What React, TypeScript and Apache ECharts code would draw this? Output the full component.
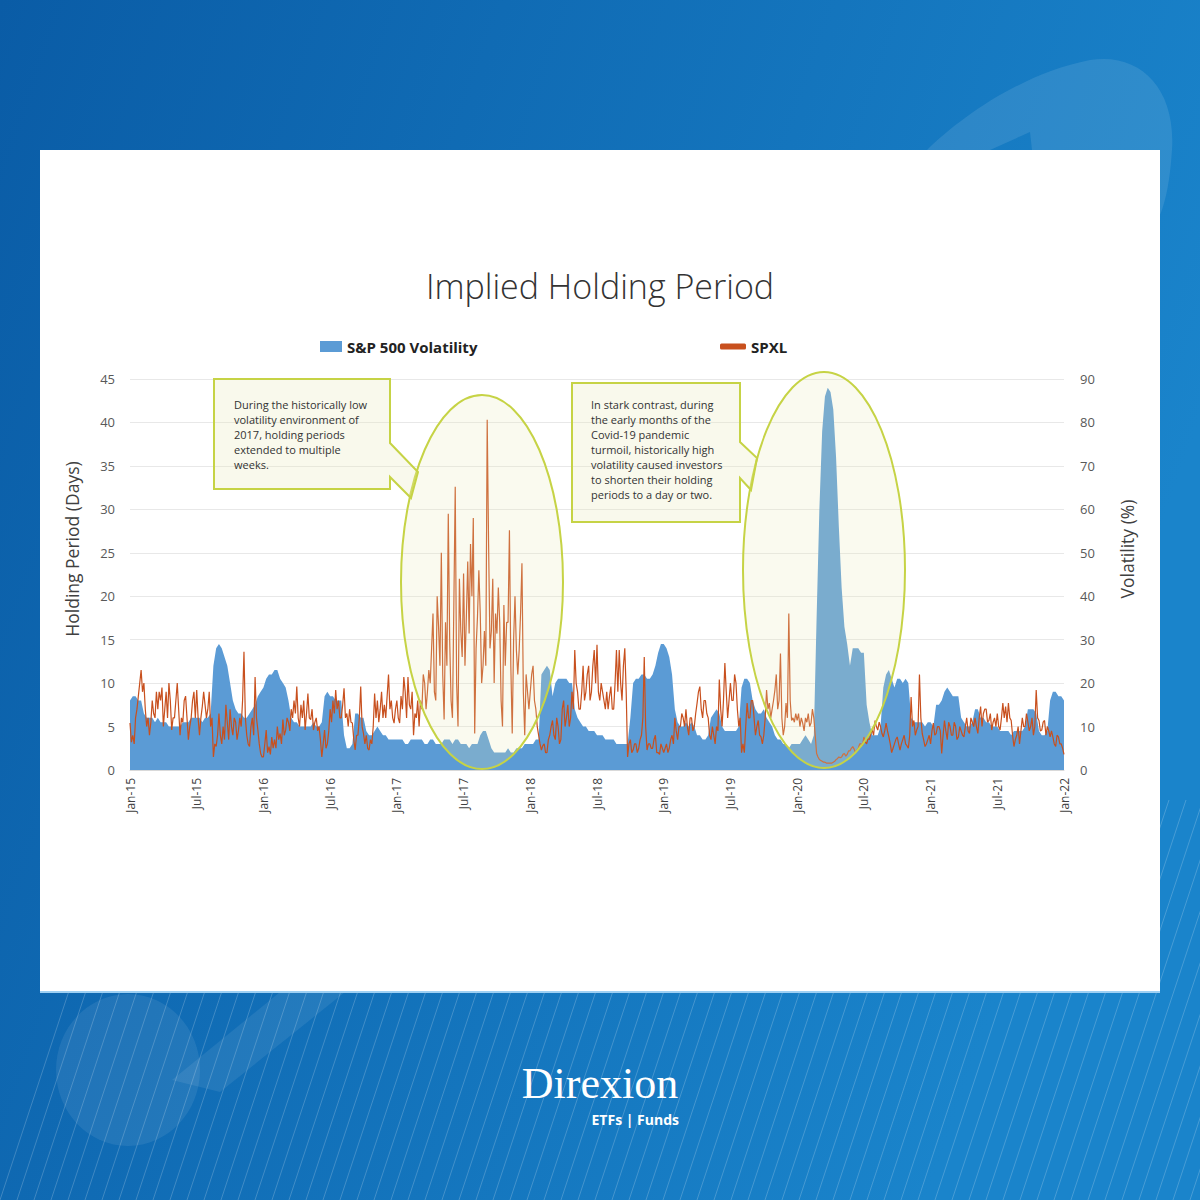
import React, { useEffect, useRef } from "react";
import * as echarts from "echarts";

// ---- Tick labels (one every 6 months) ----
const xTickLabels = [
  "Jan-15", "Jul-15", "Jan-16", "Jul-16", "Jan-17", "Jul-17", "Jan-18", "Jul-18",
  "Jan-19", "Jul-19", "Jan-20", "Jul-20", "Jan-21", "Jul-21", "Jan-22",
];
const VOL_POINTS_PER_MONTH = 4;
const SPXL_POINTS_PER_MONTH = 8;

// ---- S&P 500 Volatility (%), ~weekly, Jan 2015 .. Dec 2021 ----
const vol2015 = [16, 17, 17, 16, 16, 13, 12, 12, 12, 11, 12, 11, 11, 11, 10, 10, 10, 10, 10, 11, 11, 11, 12, 12, 12, 12, 11, 12, 12, 13, 24, 28, 29, 28, 26, 24, 20, 16, 14, 13, 13, 12, 12, 13, 14, 15, 17, 18];
const vol2016 = [19, 21, 22, 22, 23, 23, 21, 20, 19, 16, 12, 11, 11, 10, 10, 10, 10, 10, 11, 10, 10, 11, 17, 18, 17, 17, 16, 16, 16, 8, 5, 5, 6, 13, 13, 12, 12, 9, 8, 8, 9, 10, 9, 8, 8, 7, 7, 7];
const vol2017 = [7, 7, 7, 6, 6, 7, 7, 7, 7, 7, 6, 6, 7, 7, 6, 6, 6, 7, 7, 7, 6, 7, 7, 6, 6, 6, 5, 6, 6, 6, 8, 9, 9, 7, 5, 4, 4, 4, 4, 4, 5, 4, 4, 5, 5, 5, 6, 6];
const vol2018 = [6, 6, 7, 7, 22, 23, 24, 23, 17, 20, 21, 21, 21, 21, 20, 20, 14, 12, 11, 10, 10, 9, 9, 9, 8, 8, 8, 7, 7, 7, 7, 6, 6, 6, 6, 6, 12, 20, 21, 21, 22, 22, 21, 21, 22, 24, 27, 29];
const vol2019 = [29, 28, 26, 22, 14, 11, 10, 10, 11, 10, 11, 10, 8, 8, 7, 7, 8, 12, 13, 14, 13, 10, 9, 9, 9, 9, 9, 10, 19, 21, 21, 20, 16, 14, 13, 13, 14, 12, 11, 10, 8, 7, 7, 6, 6, 5, 6, 6];
const vol2020 = [6, 6, 7, 8, 7, 6, 8, 35, 60, 78, 86, 88, 87, 83, 72, 56, 42, 33, 29, 24, 28, 28, 28, 27, 27, 15, 11, 8, 8, 8, 10, 19, 22, 23, 21, 19, 21, 21, 20, 21, 20, 12, 11, 11, 11, 11, 10, 11];
const vol2021 = [11, 10, 15, 15, 16, 18, 19, 18, 17, 17, 17, 12, 11, 10, 10, 11, 14, 14, 12, 12, 11, 11, 10, 10, 10, 9, 9, 9, 9, 8, 9, 9, 9, 9, 10, 14, 14, 14, 13, 9, 8, 8, 9, 16, 18, 18, 17, 17];
const volJan2022 = [16];

// ---- SPXL implied holding period (days), ~8 readings per month ----
const spxl2015 = [
  5.4, 3.2, 4, 3, 6, 7, 8.5, 10, 11.5, 9, 10, 7, 5, 6, 4, 5.5, 8, 6.5, 6, 9, 7, 9, 8, 9.5,
  5, 7, 9, 6, 10, 8, 4.6, 6, 6, 8, 10, 7, 4, 6, 5.5, 8, 8.5, 6, 3.5, 5, 6, 8, 9, 6,
  9.2, 6, 4, 6, 7.3, 9, 7.5, 6, 7, 9, 5, 6, 1.5, 3, 2.7, 4, 6.5, 4, 3, 5, 3.5, 7.5, 5.5, 3.5,
  7, 5, 4, 6, 5.5, 3.5, 4.5, 6, 5, 8, 13.6, 6, 4, 3, 2.7, 5, 6, 4, 10.7, 6, 4.6, 3, 1.9, 1.5,
];
const spxl2016 = [
  1.5, 3, 4.6, 2, 2.7, 1.8, 3.8, 2.5, 3.5, 2.5, 5, 3.5, 4.2, 3, 5.8, 4, 4.6, 6, 5.5, 4.5, 7, 6, 8, 6.5,
  9.6, 6, 5, 7.5, 6, 8, 4.6, 6.5, 8.8, 6, 5.8, 7, 4.6, 5.5, 6, 4.5, 5, 3.5, 1.5, 3, 4.6, 2.5, 3, 4.5,
  7, 5.5, 8, 6.5, 9.2, 7, 8, 6, 6, 7.5, 9.4, 6, 6.5, 5, 7, 5.5, 5.4, 3.5, 2.3, 4, 4, 6, 9.6, 5,
  4.2, 3, 4, 2.5, 2.3, 3.5, 3, 5, 8.8, 6, 8, 5.5, 7, 9, 6, 7.5, 6, 8.5, 11, 7, 8, 6, 5.4, 7,
];
const spxl2017 = [
  8, 6, 5.4, 8.5, 7, 10.7, 9, 6, 10.7, 7.5, 7, 9, 4, 6.5, 6, 8, 5, 8, 7, 11, 10, 7, 9, 11.5,
  10, 14, 18, 9, 8, 20, 16.5, 12, 25, 11, 5.8, 17, 12, 29.5, 15, 8, 6, 19, 32.6, 10, 5, 22, 16, 13,
  22.6, 12, 17.6, 24, 15.7, 26, 20, 29, 4.2, 14, 17.6, 23, 18, 10, 12, 16, 12, 40.3, 26, 14, 16, 22, 10, 18,
  15.7, 21, 17, 8, 5, 19, 12, 17, 17, 27.6, 12, 4.2, 15, 20, 13.8, 11, 13.8, 18, 23.8, 9, 4, 11, 9, 7,
];
const spxl2018 = [
  9, 11, 12, 8, 7, 5, 4, 3, 2.3, 2.8, 3, 2, 2, 3.5, 4, 5, 5.7, 4, 3.5, 6, 5, 3, 3.5, 7,
  8, 5, 6, 7.5, 5, 6, 9, 7, 13.8, 10, 9, 7, 7, 9, 12, 8, 9, 11, 12, 8, 9, 12, 13.8, 10,
  14.4, 9, 8, 10, 9, 8, 7, 9, 7, 8.5, 9.6, 7, 7, 10, 13.8, 9, 13.8, 10, 8, 12, 14, 9, 1.5, 3,
  3.5, 2, 2.3, 3, 3, 2, 2.5, 3.5, 4, 6, 13, 5, 2.3, 3, 3, 2.5, 2.5, 3.5, 4, 2, 2, 1.8, 3, 2.5,
];
const spxl2019 = [
  2, 2.5, 3, 2, 2.5, 3.5, 4, 3, 6, 4.5, 3.5, 5, 5, 6.5, 6, 5, 7, 5, 4, 6, 6, 4.5, 5, 6.5,
  7.7, 9, 9.6, 7, 6, 8, 8, 6.5, 6, 4, 3.5, 5, 4, 3, 5, 4.5, 10.4, 7, 5, 8, 12.3, 9, 6, 8,
  10, 8, 8, 11, 10, 7, 5, 6, 2, 3, 2, 5, 7.7, 6, 6, 8, 8, 6, 4, 5, 5.7, 4, 3.8, 3,
  4, 6, 9.2, 7, 7.7, 6, 7, 8, 9.2, 11, 7, 8, 13.4, 6, 4, 5, 7.7, 6, 18, 8, 5.7, 6, 5.5, 6.5,
];
const spxl2020 = [
  5.7, 6.5, 5, 6, 5.4, 4.5, 6, 5.5, 6.5, 5, 5.4, 7, 6, 4, 1.9, 1.5, 1.2, 1.1, 1, 0.9, 0.9, 0.8, 0.8, 0.8,
  0.8, 0.8, 0.9, 1, 1.2, 1.3, 1.5, 1.4, 1.5, 1.8, 1.9, 1.6, 1.8, 2.2, 2.2, 2.5, 2.7, 2.4, 2, 2.3, 2.5, 3, 3, 2.8,
  3.8, 3.2, 3, 3.6, 3.5, 4.2, 4.6, 4, 5.7, 5, 4.6, 5.5, 5, 4.2, 3.8, 4.5, 5.4, 4.5, 3.8, 3, 2, 2.5, 3, 3.5,
  3.8, 3, 2.3, 3, 3.5, 4, 3, 2.8, 2.5, 4, 8.4, 5, 5.7, 4, 4.6, 5, 11, 6, 4.2, 3.5, 2.7, 3, 3.5, 4,
];
const spxl2021 = [
  3, 4.5, 5.4, 4, 4.2, 5, 5, 4.5, 1.9, 4, 5.7, 4.5, 3.5, 5.5, 5, 4, 4, 5.5, 5, 3.5, 3.8, 5, 4.5, 4,
  3.8, 5, 6, 4.5, 4.2, 6, 5.5, 5, 6, 5, 4.2, 6, 7.3, 5, 6.5, 7, 7, 5.5, 5.7, 6.5, 4.6, 5.5, 6, 5,
  6.5, 5, 4.6, 6, 7.7, 6, 7.3, 5.5, 7.7, 6, 5.7, 4, 2.7, 3.5, 4, 5, 3, 4.5, 6, 5, 5, 6.5, 5.5, 4.5,
  5, 6, 4, 5, 9.2, 6, 5.7, 4.5, 4.6, 5.5, 5.7, 4, 5, 4.5, 3.8, 4.5, 3.8, 3, 2.7, 4, 3.8, 3, 3, 2.5,
];
const spxlJan2022 = [1.8];

const volatility = [...vol2015, ...vol2016, ...vol2017, ...vol2018, ...vol2019, ...vol2020, ...vol2021, ...volJan2022];
const spxl = [...spxl2015, ...spxl2016, ...spxl2017, ...spxl2018, ...spxl2019, ...spxl2020, ...spxl2021, ...spxlJan2022];

const callout1Lines = [
  "During the historically low",
  "volatility environment of",
  "2017, holding periods",
  "extended to multiple",
  "weeks.",
];
const callout2Lines = [
  "In stark contrast, during",
  "the early months of the",
  "Covid-19 pandemic",
  "turmoil, historically high",
  "volatility caused investors",
  "to shorten their holding",
  "periods to a day or two.",
];

const SWOOSH_D =
  "M927 150 C960 118 1020 74 1090 60 C1140 52 1176 88 1172 150 C1170 180 1166 200 1160 215 L1100 260 L1032 150 L1030 132 L990 150 Z";

export default function App() {
  const ref = useRef<HTMLDivElement>(null);

  useEffect(() => {
    if (!ref.current) return;
    try {
      echarts.graphic.registerShape("swoosh", echarts.graphic.extendPath(SWOOSH_D, {}));
    } catch (e) {}
    const chart = echarts.init(ref.current, undefined, { renderer: "svg" });

    const volData = volatility.map((v, i) => [i / VOL_POINTS_PER_MONTH, v]);
    const spxlData = spxl.map((v, i) => [i / SPXL_POINTS_PER_MONTH, v]);

    const diag: any[] = [];
    for (let xb = 0; xb <= 1280; xb += 17) {
      diag.push({
        type: "line",
        z: -8,
        silent: true,
        shape: { x1: xb, y1: 1200, x2: xb + 0.33 * 400, y2: 800 },
        style: { stroke: "rgba(255,255,255,0.2)", lineWidth: 1 },
      });
    }

    const ellipseStyle = { fill: "rgba(232,232,180,0.22)", stroke: "#c6d345", lineWidth: 2 };
    const calloutStyle = { fill: "rgba(232,232,185,0.28)", stroke: "#c6d345", lineWidth: 2 };
    const axisNameStyle = { fontSize: 17.5, fill: "#404040", fontFamily: "'Open Sans', sans-serif", textAlign: "center", textVerticalAlign: "middle" };

    const option: any = {
      animation: false,
      backgroundColor: new echarts.graphic.LinearGradient(0, 0, 1, 0.35, [
        { offset: 0, color: "#0a5ca6" },
        { offset: 1, color: "#1a84cb" },
      ]),
      textStyle: { fontFamily: "'Open Sans', 'Noto Sans', sans-serif" },
      title: {
        text: "Implied Holding Period",
        left: "center",
        top: 264,
        textStyle: { fontSize: 34, fontWeight: 300, color: "#333333", fontFamily: "'Open Sans', sans-serif" },
      },
      legend: [
        {
          data: [{ name: "S&P 500 Volatility", icon: "rect" }],
          left: 315,
          top: 334,
          itemWidth: 22,
          itemHeight: 11,
          itemGap: 0,
          textStyle: { fontWeight: "bold", fontSize: 15, color: "#222" },
        },
        {
          data: [{ name: "SPXL", icon: "roundRect" }],
          left: 715,
          top: 334,
          itemWidth: 26,
          itemHeight: 6,
          textStyle: { fontWeight: "bold", fontSize: 15, color: "#222" },
        },
      ],
      grid: { left: 130, right: 136, top: 379, bottom: 430 },
      xAxis: {
        type: "value",
        min: 0,
        max: 84,
        interval: 6,
        axisLine: { lineStyle: { color: "#d9d9d9", width: 1 } },
        axisTick: { show: false },
        splitLine: { show: false },
        axisLabel: {
          rotate: 90,
          margin: 8,
          color: "#404040",
          fontSize: 12,
          showMinLabel: true,
          showMaxLabel: true,
          formatter: (v: number) => xTickLabels[Math.round(v / 6)] ?? "",
        },
      },
      yAxis: [
        {
          type: "value",
          min: 0,
          max: 45,
          interval: 5,
          axisLine: { show: false },
          axisTick: { show: false },
          axisLabel: { color: "#595959", fontSize: 13, margin: 15 },
          splitLine: { lineStyle: { color: "#e8e8e8", width: 1 } },
        },
        {
          type: "value",
          min: 0,
          max: 90,
          interval: 10,
          position: "right",
          axisLine: { show: false },
          axisTick: { show: false },
          axisLabel: { color: "#595959", fontSize: 13, margin: 16 },
          splitLine: { show: false },
        },
      ],
      series: [
        {
          name: "S&P 500 Volatility",
          type: "line",
          yAxisIndex: 1,
          data: volData,
          symbol: "none",
          lineStyle: { width: 0 },
          itemStyle: { color: "#5b9bd5" },
          areaStyle: { color: "#5b9bd5", opacity: 1 },
          z: 2,
        },
        {
          name: "SPXL",
          type: "line",
          yAxisIndex: 0,
          data: spxlData,
          symbol: "none",
          lineStyle: { width: 1.2, color: "#c8501e" },
          itemStyle: { color: "#c8501e" },
          z: 3,
        },
      ],
      graphic: {
        elements: [
          // background decorations
          { type: "swoosh", z: -9, silent: true, x: 0, y: 0, style: { fill: "rgba(255,255,255,0.1)" } },
          { type: "ellipse", z: -9, silent: true, shape: { cx: 128, cy: 1070, rx: 72, ry: 76 }, style: { fill: "rgba(255,255,255,0.08)" } },
          {
            type: "polygon",
            z: -9,
            silent: true,
            shape: { points: [[280, 992], [345, 992], [220, 1092], [172, 1080]] },
            style: { fill: "rgba(255,255,255,0.08)" },
          },
          ...diag,
          // white panel
          { type: "rect", z: -5, silent: true, shape: { x: 40, y: 150, width: 1120, height: 842 }, style: { fill: "#ffffff" } },
          { type: "line", z: -5, silent: true, shape: { x1: 40, y1: 992, x2: 1160, y2: 992 }, style: { stroke: "#9fd0f3", lineWidth: 2 } },
          // axis names
          { type: "text", z: 5, x: 72, y: 549, rotation: Math.PI / 2, style: { text: "Holding Period (Days)", ...axisNameStyle } },
          { type: "text", z: 5, x: 1127, y: 549, rotation: Math.PI / 2, style: { text: "Volatility (%)", ...axisNameStyle } },
          // ellipses
          { type: "ellipse", z: 50, silent: true, shape: { cx: 482, cy: 582, rx: 81, ry: 187 }, style: ellipseStyle },
          { type: "ellipse", z: 50, silent: true, shape: { cx: 824, cy: 570, rx: 81, ry: 198 }, style: ellipseStyle },
          // callouts
          {
            type: "polygon",
            z: 51,
            silent: true,
            shape: { points: [[214, 379], [390, 379], [390, 443], [418, 472], [411, 498], [390, 477], [390, 489], [214, 489]] },
            style: calloutStyle,
          },
          {
            type: "polygon",
            z: 51,
            silent: true,
            shape: { points: [[572, 383], [740, 383], [740, 442], [757, 458], [751, 490], [740, 478], [740, 522], [572, 522]] },
            style: calloutStyle,
          },
          {
            type: "text",
            z: 52,
            x: 234,
            y: 397,
            style: { text: callout1Lines.join("\n"), fontSize: 11, lineHeight: 15, fill: "#333", fontFamily: "'Open Sans', sans-serif" },
          },
          {
            type: "text",
            z: 52,
            x: 591,
            y: 397,
            style: { text: callout2Lines.join("\n"), fontSize: 11, lineHeight: 15, fill: "#333", fontFamily: "'Open Sans', sans-serif" },
          },
          // logo
          {
            type: "text",
            z: 10,
            x: 600,
            y: 1083,
            style: { text: "Direxion", fontSize: 44, fill: "#ffffff", fontFamily: "'Liberation Serif', serif", textAlign: "center", textVerticalAlign: "middle" },
          },
          {
            type: "text",
            z: 10,
            x: 679,
            y: 1119,
            style: { text: "ETFs | Funds", fontSize: 14, fontWeight: "bold", fill: "#ffffff", fontFamily: "'Open Sans', sans-serif", textAlign: "right", textVerticalAlign: "middle" },
          },
        ],
      },
    };

    chart.setOption(option);
    return () => chart.dispose();
  }, []);

  return <div ref={ref} style={{ position: "absolute", left: 0, top: 0, width: 1200, height: 1200 }} />;
}
